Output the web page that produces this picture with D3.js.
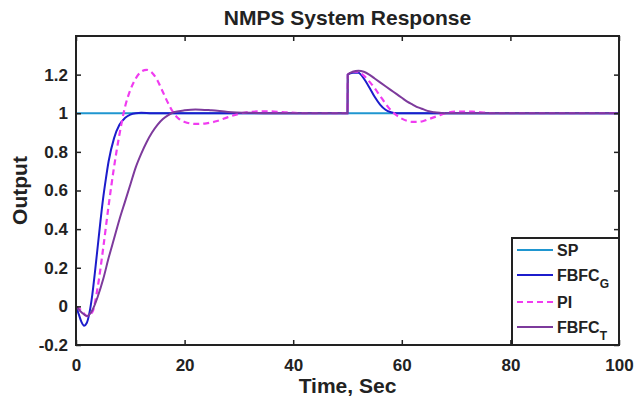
<!DOCTYPE html>
<html>
<head>
<meta charset="utf-8">
<title>NMPS System Response</title>
<script src="https://d3js.org/d3.v7.min.js"></script>
<style>
body { margin: 0; background: #fff; }
text { font-family: "Liberation Sans", Arial, sans-serif; font-weight: bold; fill: #222; }
</style>
</head>
<body>
<script>
// values
var spT = [0, 100];
var spV = [1, 1];

var fbfcGT = [0, 0.5, 1, 1.5, 2, 2.5, 3, 3.5, 4, 4.5, 5, 5.5, 6, 7, 8, 9, 10, 11, 12, 14, 50, 50.05, 51, 52, 53, 54, 55, 56, 57, 58, 59, 60, 100];
var fbfcGV = [0, -0.04, -0.08, -0.1, -0.085, -0.03, 0.06, 0.18, 0.31, 0.44, 0.56, 0.66, 0.75, 0.87, 0.94, 0.975, 0.993, 1.0, 1.002, 1.0, 1.0, 1.2, 1.21, 1.21, 1.18, 1.135, 1.085, 1.045, 1.018, 1.005, 1.0, 1.0, 1.0];

var piT = [0, 1, 2, 3, 4, 5, 6, 7, 8, 9, 10, 11, 12, 13, 14, 15, 16, 17, 18, 19, 20, 22, 24, 26, 28, 30, 32, 35, 38, 42, 50, 50.05, 51, 52, 53, 54, 55, 56, 57, 58, 59, 60, 61, 62, 63, 64, 65, 66, 67, 68, 70, 73, 77, 100];
var piV = [0, -0.02, -0.05, -0.03, 0.1, 0.3, 0.52, 0.72, 0.89, 1.03, 1.12, 1.18, 1.215, 1.225, 1.21, 1.17, 1.11, 1.05, 1.0, 0.97, 0.955, 0.945, 0.948, 0.96, 0.98, 0.997, 1.007, 1.01, 1.006, 1.0, 1.0, 1.2, 1.215, 1.215, 1.195, 1.165, 1.13, 1.09, 1.05, 1.015, 0.99, 0.972, 0.96, 0.955, 0.955, 0.96, 0.97, 0.98, 0.99, 1.0, 1.008, 1.008, 1.0, 1.0];

var fbfcTT = [0, 1, 2, 3, 4, 5, 6, 7, 8, 9, 10, 11, 12, 13, 14, 15, 16, 17, 18, 20, 22, 25, 28, 32, 36, 50, 50.05, 51, 52, 53, 54, 55, 56, 57, 58, 59, 60, 61, 62, 63, 64, 65, 66, 67, 68, 100];
var fbfcTV = [0, -0.03, -0.05, -0.02, 0.05, 0.14, 0.25, 0.35, 0.45, 0.54, 0.63, 0.72, 0.79, 0.85, 0.9, 0.94, 0.97, 0.99, 1.005, 1.015, 1.02, 1.015, 1.007, 1.002, 1.0, 1.0, 1.2, 1.215, 1.22, 1.215, 1.2, 1.18, 1.16, 1.14, 1.12, 1.1, 1.08, 1.06, 1.045, 1.03, 1.02, 1.01, 1.005, 1.002, 1.0, 1.0];

var xTicks = [0, 20, 40, 60, 80, 100];
var yTicks = [-0.2, 0, 0.2, 0.4, 0.6, 0.8, 1, 1.2];

var series = [
	{name: "SP", sub: "", t: spT, v: spV, color: "#1f96d0", dash: null},
	{name: "FBFC", sub: "G", t: fbfcGT, v: fbfcGV, color: "#1c1ccc", dash: null},
	{name: "PI", sub: "", t: piT, v: piV, color: "#f03cf0", dash: "6,4"},
	{name: "FBFC", sub: "T", t: fbfcTT, v: fbfcTV, color: "#7d3a9c", dash: null}
];

var W = 635, H = 400;
var pL = 76, pR = 619, pT = 36, pB = 345;

var svg = d3.select("body").append("svg").attr("width", W).attr("height", H);

var x = d3.scaleLinear().domain([0, 100]).range([pL, pR]);
var y = d3.scaleLinear().domain([-0.2, 1.4]).range([pB, pT]);

svg.append("defs").append("clipPath").attr("id", "clip")
	.append("rect").attr("x", pL).attr("y", pT).attr("width", pR - pL).attr("height", pB - pT);

// curves
var line = d3.line()
	.x(function(d){ return x(d[0]); })
	.y(function(d){ return y(d[1]); })
	.curve(d3.curveMonotoneX);

var g = svg.append("g").attr("clip-path", "url(#clip)");
series.forEach(function(s){
	var pts = s.t.map(function(t, i){ return [t, s.v[i]]; });
	g.append("path")
		.datum(pts)
		.attr("d", line)
		.attr("fill", "none")
		.attr("stroke", s.color)
		.attr("stroke-width", s.dash ? 2.2 : 2)
		.attr("stroke-dasharray", s.dash);
});

// axes, matlab style ticks inside
var tickLen = 5;
svg.append("g").attr("transform", "translate(0," + pB + ")")
	.call(d3.axisBottom(x).tickValues(xTicks).tickSizeInner(-tickLen).tickSizeOuter(0).tickPadding(14).tickFormat(d3.format("d")))
	.call(function(a){ a.select(".domain").remove(); a.selectAll("text").style("font-size", "17px"); });
svg.append("g").attr("transform", "translate(0," + pT + ")")
	.call(d3.axisTop(x).tickValues(xTicks).tickSizeInner(-tickLen).tickSizeOuter(0).tickFormat(""))
	.call(function(a){ a.select(".domain").remove(); });
svg.append("g").attr("transform", "translate(" + pL + ",0)")
	.call(d3.axisLeft(y).tickValues(yTicks).tickSizeInner(-tickLen).tickSizeOuter(0).tickPadding(8).tickFormat(function(d){ return String(+d.toFixed(1)); }))
	.call(function(a){ a.select(".domain").remove(); a.selectAll("text").style("font-size", "17px"); });
svg.append("g").attr("transform", "translate(" + pR + ",0)")
	.call(d3.axisRight(y).tickValues(yTicks).tickSizeInner(-tickLen).tickSizeOuter(0).tickFormat(""))
	.call(function(a){ a.select(".domain").remove(); });
svg.selectAll(".tick line").attr("stroke", "#222").attr("stroke-width", 1.5);

svg.append("rect")
	.attr("x", pL).attr("y", pT).attr("width", pR - pL).attr("height", pB - pT)
	.attr("fill", "none").attr("stroke", "#222").attr("stroke-width", 2);

// labels
svg.append("text").attr("x", (pL + pR) / 2).attr("y", 25).attr("text-anchor", "middle")
	.style("font-size", "21px").text("NMPS System Response");
svg.append("text").attr("x", (pL + pR) / 2).attr("y", 393).attr("text-anchor", "middle")
	.style("font-size", "21px").text("Time, Sec");
svg.append("text").attr("transform", "translate(27," + ((pT + pB) / 2) + ") rotate(-90)")
	.attr("text-anchor", "middle").style("font-size", "21px").text("Output");

// legend
var lg = svg.append("g");
lg.append("rect").attr("x", 512).attr("y", 238).attr("width", pR - 512).attr("height", pB - 238)
	.attr("fill", "#fff").attr("stroke", "#222").attr("stroke-width", 2);
var rowY = [250, 275, 302, 327];
series.forEach(function(s, i){
	lg.append("line").attr("x1", 517).attr("x2", 553).attr("y1", rowY[i]).attr("y2", rowY[i])
		.attr("stroke", s.color).attr("stroke-width", 2).attr("stroke-dasharray", s.dash);
	var t = lg.append("text").attr("x", 557).attr("y", rowY[i] + 6).style("font-size", "16px").text(s.name);
	if (s.sub) {
		t.append("tspan").attr("dy", 7).style("font-size", "12px").text(s.sub);
	}
});
</script>
</body>
</html>
